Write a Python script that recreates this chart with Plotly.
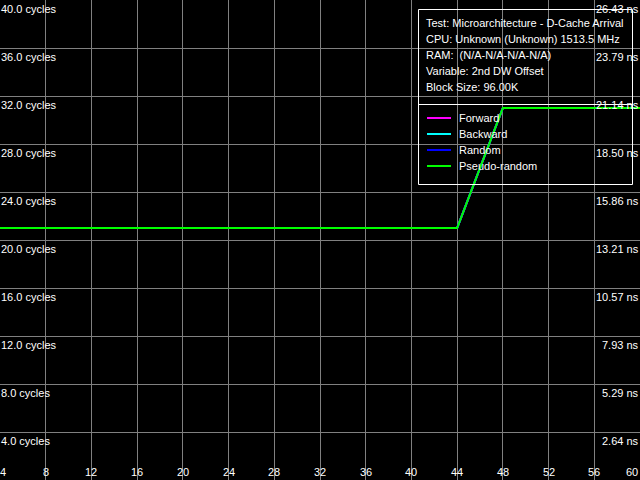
import plotly.graph_objects as go

# ---- data ----
x_offsets = [4, 8, 12, 16, 20, 24, 28, 32, 36, 40, 44, 48, 52, 56, 60]
forward = [21.0, 21.0, 21.0, 21.0, 21.0, 21.0, 21.0, 21.0, 21.0, 21.0, 21.0, 31.0, 31.0, 31.0, 31.0]
backward = [21.0, 21.0, 21.0, 21.0, 21.0, 21.0, 21.0, 21.0, 21.0, 21.0, 21.0, 31.0, 31.0, 31.0, 31.0]
random_ = [21.0, 21.0, 21.0, 21.0, 21.0, 21.0, 21.0, 21.0, 21.0, 21.0, 21.0, 31.0, 31.0, 31.0, 31.0]
pseudo_random = [21.0, 21.0, 21.0, 21.0, 21.0, 21.0, 21.0, 21.0, 21.0, 21.0, 21.0, 31.0, 31.0, 31.0, 31.0]

series_names = ["Forward", "Backward", "Random", "Pseudo-random"]
series_colors = ["#ff00ff", "#00ffff", "#0000ff", "#00ff00"]
series_values = [forward, backward, random_, pseudo_random]

y_ticks = [40, 36, 32, 28, 24, 20, 16, 12, 8, 4]
y_left_labels = ["40.0 cycles", "36.0 cycles", "32.0 cycles", "28.0 cycles", "24.0 cycles",
                 "20.0 cycles", "16.0 cycles", "12.0 cycles", "8.0 cycles", "4.0 cycles"]
y_right_labels = ["26.43 ns", "23.79 ns", "21.14 ns", "18.50 ns", "15.86 ns",
                  "13.21 ns", "10.57 ns", "7.93 ns", "5.29 ns", "2.64 ns"]
x_ticks = [4, 8, 12, 16, 20, 24, 28, 32, 36, 40, 44, 48, 52, 56, 60]
x_tick_labels = [str(v) for v in x_ticks]

info_lines = [
    "Test: Microarchitecture - D-Cache Arrival",
    "CPU: Unknown (Unknown) 1513.5 MHz",
    "RAM:  (N/A-N/A-N/A-N/A)",
    "Variable: 2nd DW Offset",
    "Block Size: 96.00K",
]

W, H = 640, 480
FONT = dict(family="Liberation Sans, Arial, sans-serif", size=11, color="white")

fig = go.Figure()
for name, color, vals in zip(series_names, series_colors, series_values):
    fig.add_trace(go.Scatter(x=x_offsets, y=vals, mode="lines", name=name,
                             line=dict(color=color, width=2), showlegend=False))

annotations = []
# left / right y labels
for t, lt, rt in zip(y_ticks, y_left_labels, y_right_labels):
    annotations.append(dict(x=0, xref="paper", y=t, yref="y", text=lt, showarrow=False,
                            xanchor="left", yanchor="top", yshift=-1, xshift=-1, font=FONT))
    annotations.append(dict(x=1, xref="paper", y=t, yref="y", text=rt, showarrow=False,
                            xanchor="right", yanchor="top", yshift=-1, xshift=1, font=FONT))
# x labels
for i, (t, lab) in enumerate(zip(x_ticks, x_tick_labels)):
    if i == 0:
        anchor = "left"
    elif i == len(x_ticks) - 1:
        anchor = "right"
    else:
        anchor = "center"
    annotations.append(dict(x=t, xref="x", y=0, yref="paper", text=lab, showarrow=False,
                            xanchor=anchor, yanchor="bottom", yshift=0, xshift=(-2 if anchor == "left" else 0),
                            font=FONT))

def py(p):
    return 1 - p / H

def px(p):
    return p / W

# info text
for i, line in enumerate(info_lines):
    annotations.append(dict(x=px(424), xref="paper", y=py(23 + 16 * i), yref="paper", text=line,
                            showarrow=False, xanchor="left", yanchor="middle", font=FONT))

shapes = []
# box
shapes.append(dict(type="rect", xref="paper", yref="paper", x0=px(418.5), x1=px(632.5),
                   y0=py(184.5), y1=py(9.5), line=dict(color="white", width=1)))
shapes.append(dict(type="line", xref="paper", yref="paper", x0=px(418.5), x1=px(632.5),
                   y0=py(104.5), y1=py(104.5), line=dict(color="white", width=1)))
# legend entries
for i, (name, color) in enumerate(zip(series_names, series_colors)):
    yy = 118 + 16 * i
    shapes.append(dict(type="line", xref="paper", yref="paper", x0=px(427), x1=px(451),
                       y0=py(yy), y1=py(yy), line=dict(color=color, width=2)))
    annotations.append(dict(x=px(457), xref="paper", y=py(yy), yref="paper", text=name,
                            showarrow=False, xanchor="left", yanchor="middle", font=FONT))

fig.update_layout(
    width=W, height=H,
    margin=dict(l=0, r=0, t=0, b=0),
    paper_bgcolor="black", plot_bgcolor="black",
    xaxis=dict(range=[4, 60], tickmode="array", tickvals=x_ticks, showticklabels=False,
               showgrid=True, gridcolor="#808080", gridwidth=1, zeroline=False, showline=False),
    yaxis=dict(range=[0, 40], tickmode="array", tickvals=y_ticks, showticklabels=False,
               showgrid=True, gridcolor="#808080", gridwidth=1, zeroline=False, showline=False),
    annotations=annotations,
    shapes=shapes,
    showlegend=False,
)

fig.write_html("out.html", config={"displayModeBar": False},
               post_script="document.body.style.margin='0';document.body.style.overflow='hidden';"
                           "document.documentElement.style.overflow='hidden';")
